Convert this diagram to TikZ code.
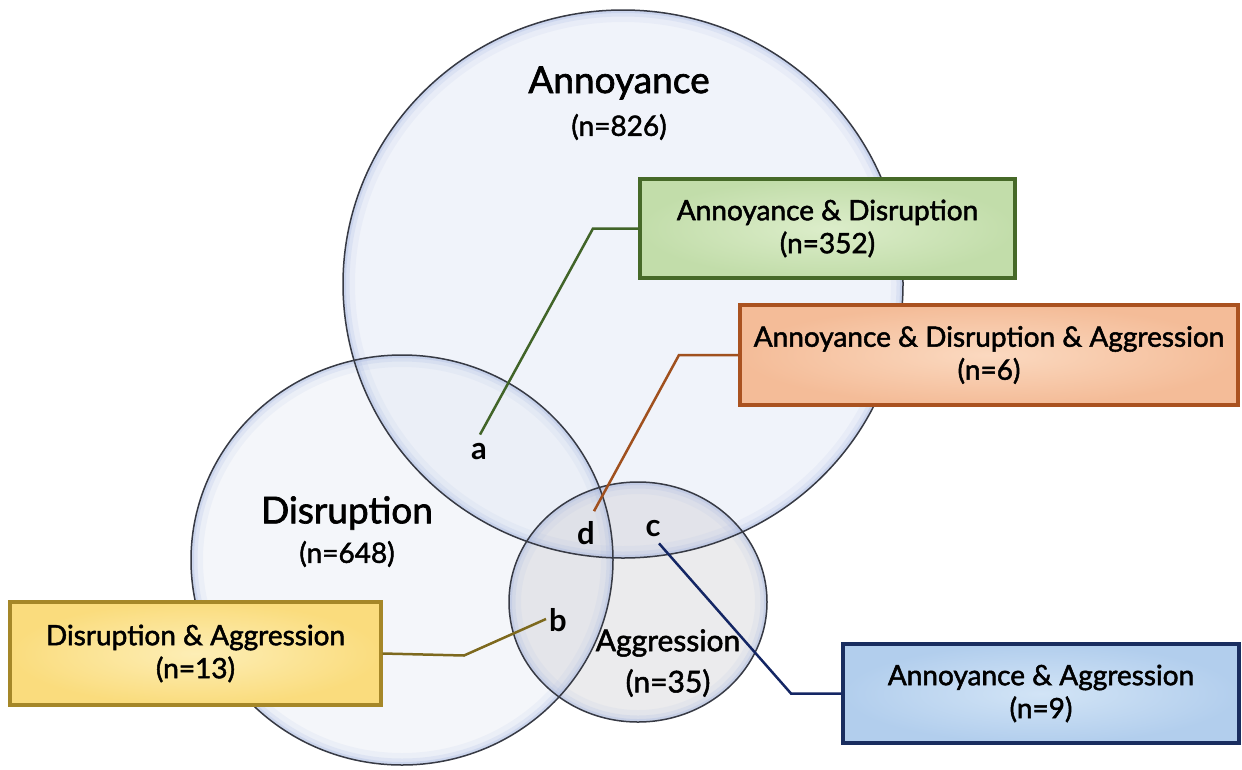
\documentclass[tikz,border=0pt]{standalone}
\usepackage{fontspec}
\setmainfont{Lato}
\newfontfamily\medfont{Lato}[FakeBold=1.8]
\newfontfamily\boldfont{Lato Bold}
\usetikzlibrary{shapes.geometric,calc}
\definecolor{ringc}{RGB}{55,58,68}
\definecolor{annfill}{RGB}{222,230,246}
\definecolor{disfill}{RGB}{228,233,244}
\definecolor{aggfill}{RGB}{205,205,210}
\definecolor{glowc}{RGB}{165,182,225}
\definecolor{gborder}{RGB}{70,105,40}
\definecolor{gout}{RGB}{194,221,170}
\definecolor{gin}{RGB}{220,237,202}
\definecolor{oborder}{RGB}{170,82,32}
\definecolor{oout}{RGB}{244,188,152}
\definecolor{oin}{RGB}{251,217,192}
\definecolor{yborder}{RGB}{165,135,40}
\definecolor{yout}{RGB}{250,220,125}
\definecolor{yin}{RGB}{253,238,182}
\definecolor{bborder}{RGB}{25,45,95}
\definecolor{bout}{RGB}{178,206,237}
\definecolor{bin}{RGB}{210,228,246}
\definecolor{gline}{RGB}{65,100,40}
\definecolor{oline}{RGB}{160,80,30}
\definecolor{yline}{RGB}{125,105,30}
\definecolor{bline}{RGB}{20,38,100}
\tikzset{
  title/.style={font=\medfont\fontsize{37}{40}\selectfont, inner sep=0pt},
  count/.style={font=\medfont\fontsize{28}{30}\selectfont, inner sep=0pt},
  small/.style={font=\medfont\fontsize{30}{32}\selectfont, inner sep=0pt},
  letter/.style={font=\boldfont\fontsize{31}{32}\selectfont, inner sep=3pt},
  box/.style={line width=3.4pt, align=center, inner sep=0pt,
    font=\medfont\fontsize{28}{33}\selectfont},
  conn/.style={line width=2.5pt},
}
\newcommand{\ringglow}[3]{%
  \begin{scope}
    \clip (#1) ellipse [x radius=#2, y radius=#3];
    \draw[glowc, line width=24pt, opacity=0.10] (#1) ellipse [x radius=#2, y radius=#3];
    \draw[glowc, line width=13pt, opacity=0.18] (#1) ellipse [x radius=#2, y radius=#3];
    \draw[glowc, line width=6pt, opacity=0.30] (#1) ellipse [x radius=#2, y radius=#3];
  \end{scope}}
\begin{document}
\begin{tikzpicture}[x=1pt,y=-1pt]
\useasboundingbox (0,0) rectangle (1242,769);
\fill[white] (0,0) rectangle (1242,769);
\coordinate (cA) at (623,284);
\coordinate (cD) at (402,560);
\coordinate (cG) at (638,602);
% fills
\fill[annfill, fill opacity=0.45] (cA) ellipse [x radius=280, y radius=274];
\fill[disfill, fill opacity=0.40] (cD) ellipse [x radius=211, y radius=205];
\fill[aggfill, fill opacity=0.40] (cG) ellipse [x radius=129, y radius=120];
% glows
\ringglow{cA}{280}{274}
\ringglow{cD}{211}{205}
\ringglow{cG}{129}{120}
% outlines
\draw[ringc, line width=1.5pt] (cA) ellipse [x radius=280, y radius=274];
\draw[ringc, line width=1.5pt] (cD) ellipse [x radius=211, y radius=205];
\draw[ringc, line width=1.5pt] (cG) ellipse [x radius=129, y radius=120];
% circle titles
\node[title] (tA) at (619,83) {Annoyance};
\node[count] (nA) at (619,127) {(n=826)};
\node[title] (tD) at (347,513) {Disruption};
\node[count] (nD) at (347,554) {(n=648)};
\node[small] (tG) at (668,643) {Aggression};
\node[small] (nG) at (668,683) {(n=35)};
% region letters
\node[letter] (a) at (479,452) {a};
\node[letter] (b) at (558,620) {b};
\node[letter] (c) at (653,529) {c};
\node[letter] (d) at (586,533) {d};
% boxes
\node[box, draw=gborder, inner color=gin, outer color=gout,
  minimum width=375pt, minimum height=99pt] (gbox) at (827.5,228.5)
  {Annoyance \& Disruption\\(n=352)};
\node[box, draw=oborder, inner color=oin, outer color=oout,
  minimum width=498pt, minimum height=100pt] (obox) at (989,355)
  {Annoyance \& Disruption \& Aggression\\(n=6)};
\node[box, draw=yborder, inner color=yin, outer color=yout,
  minimum width=371pt, minimum height=103pt] (ybox) at (195.5,653.5)
  {Disruption \& Aggression\\(n=13)};
\node[box, draw=bborder, inner color=bin, outer color=bout,
  minimum width=396pt, minimum height=99pt] (bbox) at (1041,693.5)
  {Annoyance \& Aggression\\(n=9)};
% connectors
\draw[conn, gline] (gbox.west) -- (593,228.5) -- ([xshift=1pt,yshift=6pt]a.north);
\draw[conn, oline] (obox.west) -- (679,355) -- ([xshift=8pt,yshift=7pt]d.north);
\draw[conn, yline] (ybox.east) -- (464,655.5) -- ([yshift=1pt]b.west);
\draw[conn, bline] ([xshift=6pt,yshift=-3pt]c.south) -- (791,693.5) -- (bbox.west);
\end{tikzpicture}
\end{document}
